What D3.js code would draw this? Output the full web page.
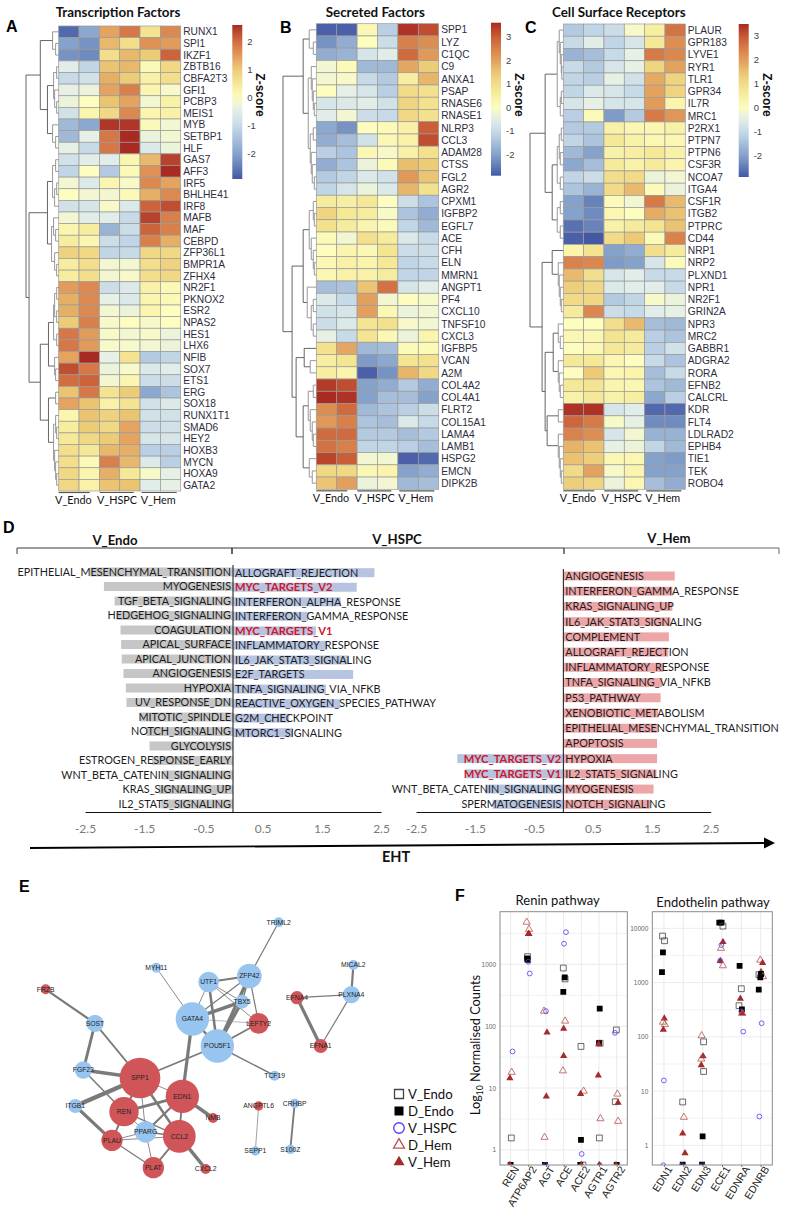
<!DOCTYPE html>
<html>
<head>
<meta charset="utf-8">
<script src="https://cdn.jsdelivr.net/npm/d3@7"></script>
<style>
  body { margin: 0; background: #fff; }
  text { font-family: "Liberation Sans", sans-serif; }
  .cal { font-family: Lato, sans-serif; }
</style>
</head>
<body>
<div id="chart"></div>
<script>
// ---- panel A data
const tfGenes = ["RUNX1","SPI1","IKZF1","ZBTB16","CBFA2T3","GFI1","PCBP3","MEIS1","MYB","SETBP1","HLF","GAS7","AFF3","IRF5","BHLHE41","IRF8","MAFB","MAF","CEBPD","ZFP36L1","BMPR1A","ZFHX4","NR2F1","PKNOX2","ESR2","NPAS2","HES1","LHX6","NFIB","SOX7","ETS1","ERG","SOX18","RUNX1T1","SMAD6","HEY2","HOXB3","MYCN","HOXA9","GATA2"];
const tfValues = [
  [-2.7,-1.9,1.4,1.9,0.6,1.7],[-2.0,-2.2,1.2,0.7,1.6,1.5],[-2.2,-2.3,0.7,1.2,1.0,2.1],[-0.5,-1.1,1.1,1.2,0.1,0.8],
  [-1.0,-0.8,1.3,1.0,0.3,0.7],[-0.4,-0.3,1.4,1.8,0.2,-0.1],[-0.3,0.0,1.1,1.4,-0.2,0.3],[-0.8,0.2,0.8,1.7,0.2,0.3],
  [-1.6,-1.9,2.5,2.5,0.1,-0.2],[-1.6,-0.4,1.9,2.6,-0.3,-0.2],[-0.4,-1.0,1.9,2.6,-0.6,-0.3],[-0.8,-0.5,-0.5,0.2,1.2,2.4],
  [-1.1,0.0,-1.3,0.1,1.6,2.6],[-0.2,-0.6,0.2,-0.1,1.7,1.4],[0.0,-0.2,-0.2,0.1,1.3,1.7],[-0.8,-0.7,-0.1,-0.6,2.1,2.3],
  [-0.2,-0.5,-0.5,-1.0,2.4,1.8],[0.2,0.4,-1.7,-0.9,2.1,1.8],[0.4,0.2,-0.9,-1.1,1.8,1.3],[0.9,0.8,-1.1,-1.0,0.8,0.8],
  [0.4,0.7,-0.2,-0.2,0.7,0.9],[0.4,0.7,-0.2,-0.1,0.7,0.8],[1.5,1.7,-0.9,-0.6,0.3,0.1],[1.3,1.7,-0.4,-0.6,0.2,0.1],
  [1.3,1.7,-0.2,-0.3,0.2,0.0],[1.0,1.8,-0.1,0.0,-0.1,0.0],[1.9,1.5,-0.1,-0.2,-0.1,-0.3],[1.9,1.5,-0.1,-0.1,-0.2,-0.3],
  [1.4,2.6,-0.4,0.6,-1.3,-1.1],[2.3,1.9,-0.3,-0.1,-0.6,-0.5],[2.0,2.1,-0.2,0.2,-0.9,-0.9],[1.1,1.9,0.6,1.0,-1.9,-1.4],
  [1.4,1.1,0.3,0.6,-0.8,-0.6],[0.2,1.1,0.9,1.1,-0.8,-0.8],[0.4,1.0,0.8,1.4,-0.9,-0.8],[0.5,0.8,1.0,1.4,-0.7,-0.7],
  [0.7,0.5,1.2,1.3,-1.2,-1.2],[0.7,0.1,1.8,1.2,-0.6,-1.2],[0.8,0.2,1.3,0.5,-0.1,-0.4],[0.8,0.3,1.1,1.1,-0.5,-0.4]];
// dendrograms: [merge height, left, right], numbers are row indices
const tfTree = [32,
  [18,[6,0,[3,1,2]],[11,[5,[2,3,4],[4,5,[2,6,7]]],[6,8,[3,9,10]]]],
  [29,
    [11,[6,[3,11,12],[4,[2,13,14],15]],[7,[5,16,[3,17,18]],[4,19,[2,20,21]]]],
    [18,
      [10,[5,[4,[2,22,23],[2,24,25]],[2,26,27]],[4,28,[3,29,30]]],
      [10,[3,31,32],[5,[3,33,[2,34,35]],[4,36,[3,37,[2,38,39]]]]]]]];

// ---- panel B data
const secGenes = ["SPP1","LYZ","C1QC","C9","ANXA1","PSAP","RNASE6","RNASE1","NLRP3","CCL3","ADAM28","CTSS","FGL2","AGR2","CPXM1","IGFBP2","EGFL7","ACE","CFH","ELN","MMRN1","ANGPT1","PF4","CXCL10","TNFSF10","CXCL3","IGFBP5","VCAN","A2M","COL4A2","COL4A1","FLRT2","COL15A1","LAMA4","LAMB1","HSPG2","EMCN","DIPK2B"];
const secValues = [
  [-2.8,-2.8,0.2,-1.2,3.5,3.2],[-2.2,-1.8,0.0,-0.9,2.5,2.3],[-1.8,-1.7,-0.7,-0.5,2.8,2.1],[-0.2,0.1,-1.6,-1.6,1.9,1.4],
  [-0.2,-0.1,-1.0,-1.3,0.5,1.7],[0.0,-0.4,-0.7,-1.2,1.0,0.9],[-0.7,-0.6,-0.5,-0.8,1.2,0.9],[-0.5,-0.2,-0.9,-1.0,1.1,0.9],
  [-1.9,-2.2,0.0,0.1,0.4,3.0],[-1.8,-1.5,-0.8,0.2,0.4,3.2],[-1.2,-1.4,0.2,-0.1,0.4,0.9],[-1.8,-1.4,-0.3,0.1,1.6,1.4],
  [-1.3,-1.1,-0.6,-0.8,2.1,1.5],[-1.1,-0.7,-0.3,-0.6,1.7,0.9],[0.6,0.5,0.7,0.0,-0.9,-1.4],[1.2,0.7,0.6,-0.1,-1.4,-1.8],
  [0.9,0.6,0.3,0.1,-1.1,-1.6],[0.1,-0.2,0.9,0.6,-0.6,-1.0],[0.0,0.3,0.2,0.8,-0.9,-0.9],[0.2,0.4,0.3,0.7,-1.1,-1.0],
  [0.2,0.4,0.4,0.6,-1.1,-1.1],[-1.5,-1.4,1.5,2.7,-0.7,-0.5],[-0.6,-1.0,2.0,-0.2,0.0,-0.1],[-0.8,-0.7,2.0,0.2,-0.3,-0.2],
  [-0.9,-0.6,0.8,0.9,-0.1,-0.2],[-0.4,-1.0,0.8,0.2,-0.3,0.3],[0.9,1.9,-1.6,-1.5,0.1,0.1],[0.5,0.8,-2.1,-1.9,0.8,0.9],
  [0.5,0.3,-2.8,-2.2,1.7,1.1],[3.4,3.2,-2.0,-1.8,-1.3,-1.8],[3.6,3.5,-2.0,-1.5,-1.5,-2.0],[2.3,2.8,-1.6,-1.4,-1.2,-0.9],
  [2.1,2.5,-1.4,-1.5,-0.6,-1.0],[2.8,2.8,-1.3,-1.3,-1.5,-1.3],[2.7,2.5,-1.1,-1.1,-1.2,-1.5],[3.3,3.0,-0.2,-0.2,-2.8,-2.7],
  [1.1,1.1,0.2,0.3,-2.0,-1.8],[1.5,2.0,-0.3,-0.2,-1.6,-1.5]];
const secTree = [33,
  [13,[7,0,[3,1,2]],[8,[5,3,[4,4,[3,5,[2,6,7]]]],[6,[3,8,9],[5,10,[4,11,[2,12,13]]]]]],
  [24,
    [13,[7,[3,14,[2,15,16]],[5,17,[3,18,[2,19,20]]]],[9,21,[5,[3,22,23],[3,24,25]]]],
    [20,[12,26,[6,27,28]],[13,[8,[3,29,30],[6,31,[4,32,[3,33,34]]]],[7,35,[4,36,37]]]]]];

// ---- panel C data
const recGenes = ["PLAUR","GPR183","LYVE1","RYR1","TLR1","GPR34","IL7R","MRC1","P2RX1","PTPN7","PTPN6","CSF3R","NCOA7","ITGA4","CSF1R","ITGB2","PTPRC","CD44","NRP1","NRP2","PLXND1","NPR1","NR2F1","GRIN2A","NPR3","MRC2","GABBR1","ADGRA2","RORA","EFNB2","CALCRL","KDR","FLT4","LDLRAD2","EPHB4","TIE1","TEK","ROBO4"];
const recValues = [
  [-1.3,-1.1,-0.9,-0.1,0.5,2.6],[-1.0,-0.5,-1.1,-0.7,0.7,2.2],[-1.7,-1.5,-1.0,-0.4,2.5,2.3],[-1.0,-1.3,-0.7,-0.4,1.2,1.9],
  [-1.1,-1.2,-0.4,-0.8,1.8,1.2],[-1.1,-0.6,-0.7,-1.0,1.9,1.2],[-0.7,-0.4,-0.7,-0.7,2.0,0.3],[-1.2,0.1,-2.1,-1.3,2.5,2.1],
  [-1.3,-1.3,0.4,0.2,0.2,0.4],[-1.1,-1.4,0.7,0.4,0.2,0.2],[-1.6,-2.0,0.4,0.5,0.7,0.4],[-1.9,-1.5,0.6,0.4,0.6,0.3],
  [-1.1,-0.9,0.9,1.0,-0.3,-0.2],[-1.4,-1.7,1.0,1.6,0.1,-0.3],[-2.0,-2.4,0.1,-0.2,2.5,1.6],[-2.0,-2.3,0.2,0.0,1.8,1.5],
  [-2.6,-2.4,0.4,0.6,0.8,1.5],[-2.8,-2.9,1.0,1.4,0.1,2.4],[0.3,0.8,-2.0,-1.8,0.9,0.6],[2.4,2.3,-2.1,-2.0,-0.7,0.1],
  [1.6,0.9,-0.7,-0.5,-1.0,-1.0],[1.3,1.1,-0.6,-0.5,-0.5,-1.0],[1.0,1.1,-1.3,-1.1,-0.1,-0.3],[0.6,2.3,-0.9,-1.0,-0.5,-0.4],
  [0.0,0.0,0.9,1.6,-1.5,-1.6],[0.2,0.2,0.8,0.6,-1.2,-1.4],[0.0,0.2,0.7,0.6,-1.2,-0.8],[0.7,0.7,0.2,0.0,-1.0,-1.4],
  [0.0,1.4,0.2,0.3,-1.5,-1.0],[0.7,0.8,0.3,0.2,-1.4,-1.6],[0.4,0.7,0.4,0.5,-1.9,-1.2],[3.4,3.4,-0.7,-0.5,-2.7,-2.7],
  [2.8,2.5,-0.1,-0.4,-2.3,-2.3],[2.4,2.2,-0.7,-0.2,-1.7,-1.7],[1.7,1.5,-0.4,-0.3,-1.1,-1.6],[1.5,1.3,0.2,0.2,-2.0,-2.1],
  [1.0,1.9,-0.1,0.3,-2.0,-2.0],[1.3,1.2,-0.3,0.2,-1.5,-1.8]];
const recTree = [33,
  [18,[6,[4,0,[3,1,[2,2,[1.5,3,4]]]],[3,[2,5,6],7]],[11,[6,[4,[2,8,9],[3,10,11]],[3,12,13]],[6,[3,14,15],[3,16,17]]]],
  [21,
    [11,18,[5,19,[4,20,[3,21,[2,22,23]]]]],
    [18,[10,[5,24,[3,25,26]],[5,27,[4,28,[3,29,30]]]],[16,[5,31,32],[5,33,[4,34,[3,35,[2,36,37]]]]]]]];

const colGroups = ["V_Endo","V_HSPC","V_Hem"];

// ---- panel D data (NES)
const endoPathways = ["EPITHELIAL_MESENCHYMAL_TRANSITION","MYOGENESIS","TGF_BETA_SIGNALING","HEDGEHOG_SIGNALING","COAGULATION","APICAL_SURFACE","APICAL_JUNCTION","ANGIOGENESIS","HYPOXIA","UV_RESPONSE_DN","MITOTIC_SPINDLE","NOTCH_SIGNALING","GLYCOLYSIS","ESTROGEN_RESPONSE_EARLY","WNT_BETA_CATENIN_SIGNALING","KRAS_SIGNALING_UP","IL2_STAT5_SIGNALING"];
const endoNes = [-2.42,-2.18,-2.0,-1.97,-1.9,-1.89,-1.88,-1.85,-1.81,-1.8,-1.57,-1.46,-1.41,-1.37,-1.18,-1.25,-1.22];
const hspcPathways = ["ALLOGRAFT_REJECTION","MYC_TARGETS_V2","INTERFERON_ALPHA_RESPONSE","INTERFERON_GAMMA_RESPONSE","MYC_TARGETS_V1","INFLAMMATORY_RESPONSE","IL6_JAK_STAT3_SIGNALING","E2F_TARGETS","TNFA_SIGNALING_VIA_NFKB","REACTIVE_OXYGEN_SPECIES_PATHWAY","G2M_CHECKPOINT","MTORC1_SIGNALING"];
const hspcNes = [2.39,2.09,1.82,1.27,1.40,1.59,1.95,2.03,1.57,1.81,0.95,1.01];
const hemPathways = ["ANGIOGENESIS","INTERFERON_GAMMA_RESPONSE","KRAS_SIGNALING_UP","IL6_JAK_STAT3_SIGNALING","COMPLEMENT","ALLOGRAFT_REJECTION","INFLAMMATORY_RESPONSE","TNFA_SIGNALING_VIA_NFKB","P53_PATHWAY","XENOBIOTIC_METABOLISM","EPITHELIAL_MESENCHYMAL_TRANSITION","APOPTOSIS","HYPOXIA","IL2_STAT5_SIGNALING","MYOGENESIS","NOTCH_SIGNALING"];
const hemNes = [1.89,1.85,1.85,1.82,1.79,1.78,1.7,1.68,1.65,1.61,1.6,1.59,1.59,1.58,1.53,1.48];
const hspcLowPathways = ["MYC_TARGETS_V2","MYC_TARGETS_V1","WNT_BETA_CATENIN_SIGNALING","SPERMATOGENESIS"];
const hspcLowNes = [-1.8,-1.66,-1.33,-1.2];
const nesTicks = [-2.5,-1.5,-0.5,0.5,1.5,2.5];

// ---- panel E data: layout, weight is node degree-like size
const netNames = ["FRZB","SOST","FGF23","ITGB1","SPP1","REN","EDN1","PPARG","CCL2","PLAU","PLAT","CXCL2","NMB","GATA4","POU5F1","UTF1","ZFP42","TBX5","LEFTY2","MYH11","TRIML2","TCF19","MICAL2","PLXNA4","EFNA4","EFNA1","ANGPTL6","SEPP1","CRHBP","S100Z"];
const netLayoutX = [137,285,250,226,420,372,547,437,538,336,460,617,639,577,652,626,748,726,776,469,836,824,1060,1054,891,962,776,766,884,871];
const netLayoutY = [358,460,600,708,624,725,679,786,799,811,893,897,744,447,528,336,318,395,460,293,157,617,285,374,383,528,708,843,700,838];
const netWeight = [15,26,26,21,61,44,50,32,49,32,32,15,15,50,50,31,37,21,31,15,15,15,15,26,20,21,14,14,14,14];
const netGroup = ["r","b","b","b","r","r","r","b","r","r","r","r","r","b","b","b","b","b","r","b","b","b","b","b","r","r","r","b","b","b"];
const netEdges = [
  ["FRZB","SOST",6],["SOST","FGF23",8],["SOST","SPP1",5],["FGF23","SPP1",10],["FGF23","REN",4],["ITGB1","SPP1",12],["ITGB1","PLAU",9],
  ["SPP1","REN",4],["SPP1","EDN1",2],["SPP1","PPARG",2],["SPP1","CCL2",7],["SPP1","POU5F1",5],["SPP1","PLAU",4],["REN","EDN1",8],
  ["REN","PPARG",2],["REN","CCL2",3],["REN","PLAU",4],["EDN1","PPARG",6],["EDN1","CCL2",5],["EDN1","NMB",10],["EDN1","GATA4",9],
  ["CCL2","PPARG",4],["CCL2","PLAU",2],["CCL2","PLAT",5],["CCL2","CXCL2",10],["PLAU","PPARG",2],["PLAU","PLAT",3],["PPARG","PLAT",2],
  ["GATA4","POU5F1",7],["GATA4","UTF1",2],["GATA4","ZFP42",3],["GATA4","TBX5",10],["GATA4","LEFTY2",1],["GATA4","MYH11",2],
  ["POU5F1","UTF1",7],["POU5F1","ZFP42",9],["POU5F1","TBX5",9],["POU5F1","LEFTY2",5],["POU5F1","TCF19",4],["UTF1","ZFP42",6],
  ["UTF1","TBX5",2],["UTF1","LEFTY2",2],["ZFP42","TBX5",4],["ZFP42","LEFTY2",3],["ZFP42","TRIML2",3],["MICAL2","PLXNA4",6],
  ["PLXNA4","EFNA4",3],["PLXNA4","EFNA1",3],["EFNA4","EFNA1",9],["ANGPTL6","SEPP1",1.5],["CRHBP","S100Z",5]];

// ---- panel F data: [gene, series, counts, jitter in category steps]
const fSeries = ["V_Endo","D_Endo","V_HSPC","D_Hem","V_Hem"];
const reninGenes = ["REN","ATP6AP2","AGT","ACE","ACE2","AGTR1","AGTR2"];
const reninPoints = [
  ["REN","V_Endo",1.56,0.04],["REN","V_HSPC",39,0.11],["REN","D_Hem",18,0.06],["REN","V_Hem",14.4,-0.04],["REN","D_Endo",0.57,0],["REN","V_Hem",0.57,-0.04],
  ["ATP6AP2","D_Hem",4800,-0.09],["ATP6AP2","D_Hem",3680,0.04],["ATP6AP2","V_Hem",3100,0.04],["ATP6AP2","V_Hem",3100,0],
  ["ATP6AP2","V_Endo",1330,-0.04],["ATP6AP2","D_Endo",1240,-0.06],["ATP6AP2","D_Endo",1180,-0.04],["ATP6AP2","V_HSPC",1100,0],["ATP6AP2","V_HSPC",710,0.08],
  ["AGT","D_Hem",175,-0.11],["AGT","V_HSPC",175,0],["AGT","V_Hem",79,0.06],["AGT","V_Hem",7.3,0.02],["AGT","D_Hem",1.6,-0.08],["AGT","D_Endo",0.57,-0.06],["AGT","V_HSPC",0.57,-0.04],
  ["ACE","V_HSPC",3300,0.13],["ACE","V_HSPC",2150,0.02],["ACE","V_Endo",870,-0.02],["ACE","V_Endo",580,0.08],["ACE","D_Endo",615,0.06],["ACE","D_Endo",358,-0.02],
  ["ACE","D_Hem",121,0.08],["ACE","V_Hem",91,0],["ACE","V_Hem",33,0],["ACE","D_Hem",19,-0.04],
  ["ACE2","V_Endo",47,-0.02],["ACE2","D_Hem",8.9,0.13],["ACE2","V_Hem",8,-0.04],["ACE2","D_Endo",1.45,-0.02],["ACE2","V_HSPC",0.86,0.02],["ACE2","V_Endo",0.57,0.09],["ACE2","D_Endo",0.57,-0.06],["ACE2","V_Hem",0.57,0],
  ["AGTR1","D_Endo",192,0.04],["AGTR1","V_Endo",53,0.06],["AGTR1","D_Endo",53,0],["AGTR1","V_Hem",51,-0.02],["AGTR1","V_Hem",16,-0.04],["AGTR1","D_Hem",3.2,0.08],["AGTR1","V_Endo",1.56,0.02],["AGTR1","V_HSPC",0.57,0.04],["AGTR1","V_Hem",0.57,0.02],
  ["AGTR2","V_Endo",87,-0.02],["AGTR2","V_HSPC",78,-0.1],["AGTR2","D_Hem",8,0.04],["AGTR2","V_Endo",6,-0.08],["AGTR2","V_Hem",5.8,0.08],["AGTR2","D_Hem",2.9,0.08],["AGTR2","D_Endo",0.57,0],["AGTR2","V_Hem",0.57,-0.04]];
const endoGenes = ["EDN1","EDN2","EDN3","ECE1","EDNRA","EDNRB"];
const endoPoints = [
  ["EDN1","V_Endo",7200,-0.07],["EDN1","V_Endo",5900,0.03],["EDN1","D_Endo",3600,-0.05],["EDN1","D_Endo",1560,-0.1],["EDN1","V_Hem",219,0.02],["EDN1","D_Hem",187,-0.05],["EDN1","D_Hem",170,0.05],["EDN1","V_Hem",135,-0.03],["EDN1","V_HSPC",15.7,0],["EDN1","V_HSPC",0.43,-0.03],
  ["EDN2","V_Endo",6.3,-0.03],["EDN2","D_Hem",3.3,0.03],["EDN2","V_Hem",1.66,-0.03],["EDN2","V_Hem",0.72,0.09],["EDN2","D_Endo",0.44,-0.03],["EDN2","V_HSPC",0.43,-0.07],
  ["EDN3","D_Hem",105,-0.05],["EDN3","V_Endo",81,0.05],["EDN3","V_Hem",44,0.02],["EDN3","D_Hem",39,-0.07],["EDN3","V_Hem",30,-0.07],["EDN3","V_Endo",23,0.05],["EDN3","D_Endo",1.46,0],["EDN3","D_Endo",0.44,-0.03],["EDN3","V_HSPC",0.43,0],
  ["ECE1","D_Endo",12800,-0.14],["ECE1","D_Endo",12800,-0.02],["ECE1","V_Endo",11000,0.05],["ECE1","V_Hem",5600,0.05],["ECE1","V_HSPC",4900,-0.03],["ECE1","D_Hem",4300,-0.05],["ECE1","V_Hem",2500,-0.09],["ECE1","V_HSPC",2530,-0.09],["ECE1","D_Hem",2050,0.05],
  ["EDNRA","D_Endo",2030,-0.09],["EDNRA","V_Endo",770,0],["EDNRA","V_Hem",505,-0.05],["EDNRA","V_Endo",375,-0.12],["EDNRA","D_Endo",320,0.03],["EDNRA","V_HSPC",295,0],["EDNRA","V_Hem",275,0.03],["EDNRA","D_Hem",270,0.05],["EDNRA","V_HSPC",125,0.1],
  ["EDNRB","D_Hem",2600,-0.02],["EDNRB","V_Hem",2300,0.1],["EDNRB","V_Endo",1400,-0.09],["EDNRB","V_Hem",1570,0.02],["EDNRB","D_Endo",1440,0.02],["EDNRB","D_Hem",1290,0.12],["EDNRB","D_Endo",1250,-0.02],["EDNRB","D_Endo",740,-0.1],["EDNRB","V_HSPC",178,0.05],["EDNRB","V_HSPC",3.4,-0.07]];

const width = 789;
const height = 1211;
const svg = d3.select("#chart").append("svg").attr("width", width).attr("height", height);

function zColor(lo, hi) {
  return d3.scaleLinear()
    .domain([lo, lo*0.72, lo*0.36, lo*0.15, 0, hi*0.2, hi*0.4, hi*0.55, hi*0.72, hi*0.85, hi])
    .range(["#4458a4","#7f9dc8","#c4d8e8","#e4efe8","#fdfdbf","#f5e896","#ecca76","#e3a15e","#d67a47","#c75a35","#a82a22"]);
}

function panelLetter(t, x, y) {
  svg.append("text").attr("x", x).attr("y", y).attr("font-size", 16).attr("font-weight", "bold").text(t);
}

// one heatmap with its row dendrogram, labels and colour bar
function heatmap(genes, values, tree, o) {
  const g = svg.append("g");
  const color = zColor(o.lo, o.hi);
  const x = d3.scaleBand().domain(d3.range(6)).range([o.x0, o.x1]);
  const y = d3.scaleBand().domain(d3.range(genes.length)).range([o.y0, o.y1]);
  const rows = g.selectAll("g.row").data(values).join("g").attr("class", "row");
  rows.selectAll("rect").data((d, i) => d.map((v, j) => ({v, j, i}))).join("rect")
    .attr("x", d => x(d.j)).attr("y", d => y(d.i))
    .attr("width", x.bandwidth()).attr("height", y.bandwidth())
    .attr("fill", d => color(d.v)).attr("stroke", "#9a9a9a").attr("stroke-width", 0.7);

  g.selectAll("text.gene").data(genes).join("text").attr("class", "gene")
    .attr("x", o.x1 + 2.5).attr("y", (d, i) => y(i) + y.bandwidth() / 2).attr("dy", "0.36em")
    .attr("font-size", o.labelSize).attr("fill", "#2e2e40").text(d => d);

  // dendrogram
  const root = d3.hierarchy(tree, d => Array.isArray(d) ? d.slice(1) : null);
  const hx = d3.scaleLinear().domain([0, tree[0]]).range([o.x0, o.rootX]);
  root.eachAfter(n => {
    if (n.children) {
      n.px = hx(n.data[0]);
      n.py = d3.mean(n.children, c => c.py);
    } else {
      n.px = o.x0;
      n.py = y(n.data) + y.bandwidth() / 2;
    }
  });
  const dendro = g.append("g").attr("fill", "none").attr("stroke-width", 0.9);
  root.descendants().filter(n => n.children).forEach(n => {
    const [a, b] = n.children;
    dendro.append("path")
      .attr("stroke", n.data[0] > 9 ? "#555" : "#8c8c8c")
      .attr("d", `M${a.px},${a.py}H${n.px}V${b.py}H${b.px}`);
  });

  // column groups
  const groupOffsets = [[0, 31], [41, 75], [83, 118]];
  const labelOffsets = [-3.6, 38.3, 82];
  colGroups.forEach((c, i) => {
    g.append("line").attr("x1", o.x0 + groupOffsets[i][0]).attr("x2", o.x0 + groupOffsets[i][1])
      .attr("y1", o.y1 + 1.5).attr("y2", o.y1 + 1.5).attr("stroke", "#555").attr("stroke-width", 1.2);
    g.append("text").attr("class", "cal").attr("x", o.x0 + labelOffsets[i]).attr("y", o.y1 + 13)
      .attr("font-size", 10.8).attr("fill", "#111").text(c);
  });

  g.append("text").attr("class", "cal").attr("x", o.titleX).attr("y", 17)
    .attr("font-size", 13.4).attr("font-weight", "bold").attr("fill", "#111").text(o.title);

  // colour bar
  const barY = d3.scaleLinear().domain([o.hi, o.lo]).range([o.barY0, o.barY1]);
  const gradId = "grad" + o.title.charAt(0);
  const grad = svg.append("defs").append("linearGradient").attr("id", gradId).attr("x1", 0).attr("x2", 0).attr("y1", 0).attr("y2", 1);
  d3.range(21).forEach(i => {
    const v = o.hi + (o.lo - o.hi) * i / 20;
    grad.append("stop").attr("offset", i / 20).attr("stop-color", color(v));
  });
  g.append("rect").attr("x", o.barX).attr("y", o.barY0).attr("width", 10).attr("height", o.barY1 - o.barY0)
    .attr("fill", `url(#${gradId})`);
  g.selectAll("text.ztick").data(o.ticks).join("text").attr("class", "ztick")
    .attr("x", o.barX + 15).attr("y", d => barY(d)).attr("dy", "0.36em")
    .attr("font-size", 9.5).attr("fill", "#444").text(d => d);
  g.append("text").attr("transform", `translate(${o.barX + 24},95) rotate(90)`)
    .attr("text-anchor", "middle").attr("font-size", 12).attr("font-weight", "bold").attr("fill", "#111").text("Z-score");
}

panelLetter("A", 6, 32);
panelLetter("B", 280, 33);
panelLetter("C", 525, 33);
panelLetter("D", 3, 533);
panelLetter("E", 19, 892);
panelLetter("F", 455, 901);

heatmap(tfGenes, tfValues, tfTree, {title: "Transcription Factors", titleX: 55.7, lo: -2.9, hi: 2.6, ticks: [2,1,0,-1,-2],
  x0: 58.7, x1: 180.7, y0: 26, y1: 491, rootX: 26, labelSize: 10.2, barX: 232.3, barY0: 25, barY1: 179});
heatmap(secGenes, secValues, secTree, {title: "Secreted Factors", titleX: 325.7, lo: -2.9, hi: 3.6, ticks: [3,2,1,0,-1,-2],
  x0: 316.3, x1: 438.7, y0: 23.7, y1: 489.3, rootX: 283, labelSize: 10.2, barX: 491, barY0: 22.7, barY1: 175.7});
heatmap(recGenes, recValues, recTree, {title: "Cell Surface Receptors", titleX: 552, lo: -2.9, hi: 3.5, ticks: [3,2,1,0,-1,-2],
  x0: 563.3, x1: 685.3, y0: 24, y1: 489.3, rootX: 530, labelSize: 10.2, barX: 738.7, barY0: 24, barY1: 177});

// ---- panel D
const dLeft = d3.scaleLinear().domain([-2.5, 2.5]).range([85, 381]);
const dRight = d3.scaleLinear().domain([-2.5, 2.5]).range([416, 710.7]);
const endoY = d3.scalePoint().domain(endoPathways).range([572, 804]);
const hspcY = d3.scalePoint().domain(hspcPathways).range([572.7, 732.7]);
const hemY = d3.scalePoint().domain(hemPathways).range([576, 804.3]);
const barH = 9;
const grey = "#c6c6c6", blue = "#b6c4e1", pink = "#eca6a8";

function nesBars(names, nes, xs, ys, fill, side) {
  const g = svg.append("g");
  g.selectAll("rect").data(names).join("rect")
    .attr("x", (d, i) => Math.min(xs(nes[i]), xs(0)))
    .attr("y", (d, i) => ys(i, d) - barH / 2)
    .attr("width", (d, i) => Math.abs(xs(nes[i]) - xs(0)))
    .attr("height", barH).attr("fill", fill);
  g.selectAll("text").data(names).join("text").attr("class", "cal")
    .attr("x", xs(0) + (side < 0 ? -2 : 2))
    .attr("y", (d, i) => ys(i, d)).attr("dy", "0.36em")
    .attr("text-anchor", side < 0 ? "end" : "start")
    .attr("font-size", d => d.startsWith("MYC_") ? 11.2 : 10.8)
    .attr("font-weight", d => d.startsWith("MYC_") ? "bold" : "normal")
    .attr("fill", d => d.startsWith("MYC_") ? "#d0172b" : "#1c1c1c")
    .text(d => d);
}
nesBars(endoPathways, endoNes, dLeft, (i, d) => endoY(d), grey, -1);
nesBars(hspcPathways, hspcNes, dLeft, (i, d) => hspcY(d), blue, 1);
nesBars(hemPathways, hemNes, dRight, (i, d) => hemY(d), pink, 1);
nesBars(hspcLowPathways, hspcLowNes, dRight, i => hemY(hemPathways[12 + i]), blue, -1);

[dLeft, dRight].forEach(xs => {
  const ax = svg.append("g").attr("transform", "translate(0,812)")
    .call(d3.axisBottom(xs).tickValues(nesTicks).tickSize(0).tickPadding(12).tickFormat(d => d.toFixed(1)));
  ax.select(".domain").attr("stroke", "#111").attr("stroke-width", 1);
  ax.selectAll("text").attr("class", "cal").attr("font-size", 12).attr("fill", "#7a7a7a").style("font-family", "Lato, sans-serif");
});
svg.append("line").attr("x1", dLeft(0)).attr("x2", dLeft(0)).attr("y1", 565).attr("y2", 812).attr("stroke", "#111");
svg.append("line").attr("x1", dRight(0)).attr("x2", dRight(0)).attr("y1", 569).attr("y2", 812).attr("stroke", "#111");

// brackets on top of panel D
[[17, 232, "#222"], [232, 564, "#222"], [564, 779, "#555"]].forEach(b => {
  svg.append("path").attr("fill", "none").attr("stroke", b[2]).attr("stroke-width", 0.9)
    .attr("d", `M${b[0]},554V548H${b[1]}V554`);
});
[["V_Endo", 115, 545], ["V_HSPC", 397, 544], ["V_Hem", 669, 543]].forEach(l => {
  svg.append("text").attr("class", "cal").attr("x", l[1]).attr("y", l[2]).attr("text-anchor", "middle")
    .attr("font-size", 13.2).attr("font-weight", "bold").attr("fill", "#111").text(l[0]);
});
svg.append("path").attr("fill", "none").attr("stroke", "#000").attr("stroke-width", 1.8).attr("d", "M30,848L766,843");
svg.append("path").attr("fill", "#000").attr("d", "M764,837.5L775,843L764,848.5Z");
svg.append("text").attr("class", "cal").attr("x", 396).attr("y", 862).attr("text-anchor", "middle")
  .attr("font-size", 14.5).attr("font-weight", "bold").attr("fill", "#111").text("EHT");

// ---- panel E
const netX = d3.scaleLinear().domain([0, 1170]).range([0, 390]);
const netY = d3.scaleLinear().domain([0, 1020]).range([870, 1210]);
const netR = d3.scaleLinear().domain([0, 1170]).range([0, 390]);
const netIndex = new Map(netNames.map((n, i) => [n, i]));
svg.append("g").selectAll("line").data(netEdges).join("line")
  .attr("x1", d => netX(netLayoutX[netIndex.get(d[0])]))
  .attr("y1", d => netY(netLayoutY[netIndex.get(d[0])]))
  .attr("x2", d => netX(netLayoutX[netIndex.get(d[1])]))
  .attr("y2", d => netY(netLayoutY[netIndex.get(d[1])]))
  .attr("stroke", "#7a7a7a").attr("stroke-width", d => d[2] / 3 + 0.2);
svg.append("g").selectAll("circle").data(netNames).join("circle")
  .attr("cx", (d, i) => netX(netLayoutX[i])).attr("cy", (d, i) => netY(netLayoutY[i]))
  .attr("r", (d, i) => netR(netWeight[i]))
  .attr("fill", (d, i) => netGroup[i] === "r" ? "#d05558" : "#98c5ef");
svg.append("g").selectAll("text").data(netNames).join("text")
  .attr("x", (d, i) => netX(netLayoutX[i])).attr("y", (d, i) => netY(netLayoutY[i])).attr("dy", "0.36em")
  .attr("text-anchor", "middle").attr("font-size", 6.8).attr("fill", "#222").text(d => d);

// ---- panel F
const seriesStyle = {
  V_Endo: {shape: d3.symbolSquare, fill: "none", stroke: "#444"},
  D_Endo: {shape: d3.symbolSquare, fill: "#000", stroke: "#000"},
  V_HSPC: {shape: d3.symbolCircle, fill: "none", stroke: "#4f3df0"},
  D_Hem: {shape: d3.symbolTriangle, fill: "none", stroke: "#b55453"},
  V_Hem: {shape: d3.symbolTriangle, fill: "#a52a2a", stroke: "#a52a2a"}
};
// sizes are widths in px for [square, circle, triangle]
function marker(series, sizes) {
  const st = seriesStyle[series];
  if (st.shape === d3.symbolSquare) return d3.symbol().type(st.shape).size(sizes[0] * sizes[0])();
  if (st.shape === d3.symbolCircle) return d3.symbol().type(st.shape).size(Math.PI * sizes[1] * sizes[1] / 4)();
  return d3.symbol().type(st.shape).size(sizes[2] * sizes[2] * Math.sqrt(3) / 4)();
}

function pathwayPlot(genes, points, o) {
  const g = svg.append("g");
  const x = d3.scalePoint().domain(genes).range([o.x0, o.x1]).padding(0.6);
  const y = d3.scaleLog().domain(o.domain).range([1165, 911.7]);
  const minor = o.ticks.map(t => t * Math.sqrt(10)).filter(t => t < o.domain[1]);
  minor.unshift(o.ticks[0] / Math.sqrt(10));
  g.selectAll("line.minor").data(minor.filter(t => t > o.domain[0])).join("line").attr("class", "minor")
    .attr("x1", o.x0).attr("x2", o.x1).attr("y1", d => y(d)).attr("y2", d => y(d)).attr("stroke", "#f2f2f2");
  g.selectAll("line.major").data(o.ticks).join("line").attr("class", "major")
    .attr("x1", o.x0).attr("x2", o.x1).attr("y1", d => y(d)).attr("y2", d => y(d)).attr("stroke", "#ebebeb");
  g.selectAll("line.vert").data(genes).join("line").attr("class", "vert")
    .attr("x1", d => x(d)).attr("x2", d => x(d)).attr("y1", 911.7).attr("y2", 1165).attr("stroke", "#ebebeb");

  const clipId = "clip" + genes[0];
  svg.append("defs").append("clipPath").attr("id", clipId).append("rect")
    .attr("x", o.x0).attr("y", 911.7).attr("width", o.x1 - o.x0).attr("height", 1165 - 911.7);
  g.append("g").attr("clip-path", `url(#${clipId})`).selectAll("path").data(points).join("path")
    .attr("transform", d => `translate(${x(d[0]) + d[3] * x.step()},${y(d[2])})`)
    .attr("d", d => marker(d[1], [5.8, 4.8, 7.2]))
    .attr("fill", d => seriesStyle[d[1]].fill)
    .attr("stroke", d => seriesStyle[d[1]].stroke)
    .attr("stroke-width", d => seriesStyle[d[1]].fill === "none" ? 0.8 : 0);

  g.append("rect").attr("x", o.x0).attr("y", 911.7).attr("width", o.x1 - o.x0).attr("height", 1165 - 911.7)
    .attr("fill", "none").attr("stroke", "#8a8a8a").attr("stroke-width", 1);

  const yAx = g.append("g").attr("transform", `translate(${o.x0},0)`)
    .call(d3.axisLeft(y).tickValues(o.ticks).tickSize(0).tickPadding(4).tickFormat(d3.format("d")));
  yAx.select(".domain").remove();
  yAx.selectAll("text").attr("font-size", 6.5).attr("fill", "#666");

  const xAx = g.append("g").attr("transform", "translate(0,1165)")
    .call(d3.axisBottom(x).tickSize(2).tickPadding(2));
  xAx.select(".domain").remove();
  xAx.selectAll("line").attr("stroke", "#777");
  xAx.selectAll("text").attr("font-size", 10.5).attr("fill", "#222")
    .attr("text-anchor", "end").attr("dx", "0.1em").attr("dy", "0.5em")
    .attr("transform", "rotate(-58)");

  g.append("text").attr("class", "cal").attr("x", o.titleX).attr("y", o.titleY).attr("text-anchor", "middle")
    .attr("font-size", 13).attr("fill", "#111").text(o.title);
}
pathwayPlot(reninGenes, reninPoints, {x0: 500, x1: 627.3, domain: [0.57, 7080], ticks: [1, 10, 100, 1000],
  title: "Renin pathway", titleX: 557.7, titleY: 905});
pathwayPlot(endoGenes, endoPoints, {x0: 652.3, x1: 772.3, domain: [0.434, 20280], ticks: [1, 10, 100, 1000, 10000],
  title: "Endothelin pathway", titleX: 713, titleY: 907});

const yLabel = svg.append("text").attr("class", "cal").attr("transform", "translate(480,1045) rotate(-90)")
  .attr("text-anchor", "middle").attr("font-size", 12.8).attr("fill", "#111");
yLabel.append("tspan").text("Log");
yLabel.append("tspan").attr("font-size", 8.5).attr("dy", 3).text("10");
yLabel.append("tspan").attr("dy", -3).text(" Normalised Counts");

// legend
const legendY = d3.scalePoint().domain(fSeries).range([1094, 1162]);
const legend = svg.append("g");
legend.selectAll("path").data(fSeries).join("path")
  .attr("transform", d => `translate(399,${legendY(d)})`)
  .attr("d", d => marker(d, [9, 10.5, 11]))
  .attr("fill", d => seriesStyle[d].fill).attr("stroke", d => seriesStyle[d].stroke)
  .attr("stroke-width", d => seriesStyle[d].fill === "none" ? 1.3 : 0);
legend.selectAll("text").data(fSeries).join("text").attr("class", "cal")
  .attr("x", 408).attr("y", d => legendY(d)).attr("dy", "0.36em")
  .attr("font-size", 13.2).attr("fill", "#111").text(d => d);
</script>
</body>
</html>
